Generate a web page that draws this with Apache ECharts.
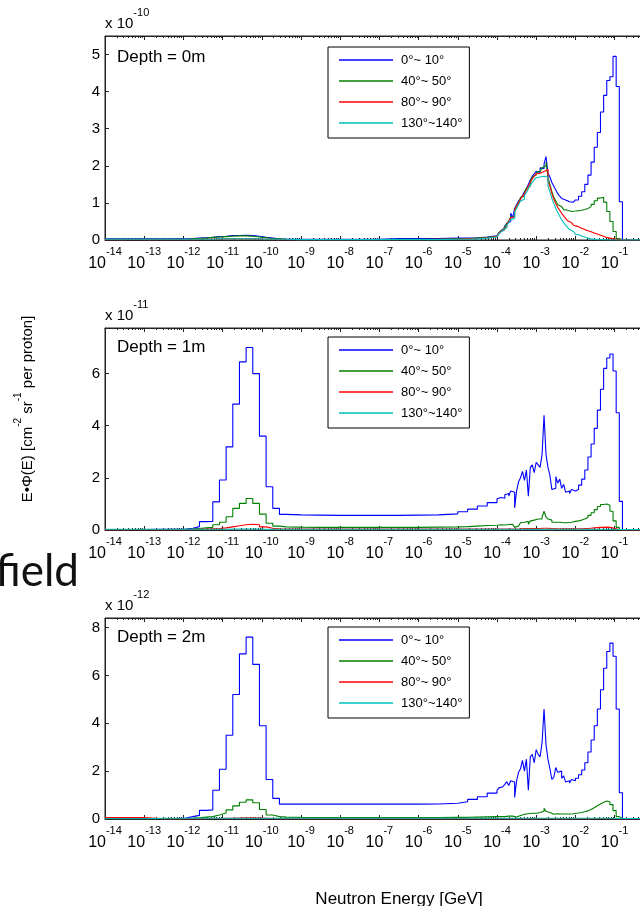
<!DOCTYPE html>
<html>
<head>
<meta charset="utf-8">
<title>Neutron energy spectra at depth</title>
<script src="https://cdn.jsdelivr.net/npm/echarts@6/dist/echarts.min.js"></script>
<style>
  html, body { margin: 0; padding: 0; background: #fff; }
  #chart { width: 640px; height: 906px; }
</style>
</head>
<body>
<div id="chart"></div>
<script>
// bin edges as log10(E / GeV); the last entry closes the last bin
var binEdges = [
  -14, -13.5, -13, -12.5,
  -12.1, -11.93, -11.76, -11.59, -11.42, -11.25, -11.08, -10.91, -10.74, -10.57, -10.4, -10.23, -10.06, -9.89, -9.72, -9.55,
  -9.38, -9, -8.5, -8, -7.5, -7, -6.5, -6, -5.5, -5, -4.75, -4.5, -4.25,
  -4, -3.95, -3.9, -3.85, -3.8, -3.75, -3.7, -3.65, -3.6, -3.55, -3.5, -3.45, -3.4, -3.35, -3.3, -3.25, -3.2, -3.15, -3.1, -3.05,
  -3, -2.95, -2.9, -2.85, -2.8, -2.75, -2.7, -2.65, -2.6, -2.55, -2.5, -2.45, -2.4, -2.35, -2.3, -2.25, -2.2, -2.15, -2.1, -2.05,
  -2, -1.92, -1.84, -1.76, -1.68, -1.6, -1.52, -1.44, -1.36, -1.28, -1.2, -1.12, -1.04, -0.96, -0.88,
  -0.8, 1
];

var angleNames = ['0°~ 10°', '40°~ 50°', '80°~ 90°', '130°~140°'];
var depthNames = ['Depth = 0m', 'Depth = 1m', 'Depth = 2m'];
var scaleExp = [-10, -11, -12];
var yMax = [5.5, 7.75, 8.4];
var yStep = [1, 2, 2];

// depth 0 m, x 1e-10
var d0Blue = [
  0.03, 0.03, 0.03, 0.03,
  0.03, 0.04, 0.05, 0.06, 0.07, 0.09, 0.1, 0.12, 0.12, 0.13, 0.12, 0.1, 0.07, 0.05, 0.03, 0.02,
  0.02, 0.02, 0.02, 0.02, 0.02, 0.04, 0.04, 0.04, 0.05, 0.05, 0.06, 0.08, 0.11,
  0.15, 0.2, 0.25, 0.3, 0.38, 0.45, 0.5, 0.72, 0.6, 0.85, 0.95, 1.05, 1.12, 1.2, 1.3, 1.38, 1.5, 1.62, 1.72, 1.78,
  1.85, 1.82, 1.95, 1.92, 2.05, 2.25, 1.8, 1.7, 1.55, 1.45, 1.35, 1.25, 1.18, 1.12, 1.08, 1.05, 1.03, 1.04, 1.02, 1.04,
  1.08, 1.18, 1.3, 1.5, 1.75, 2.1, 2.5, 2.9, 3.45, 3.9, 4.3, 4.4, 4.95, 4.14, 1.03,
  0
];
var d0Green = [
  0.02, 0.02, 0.02, 0.02,
  0.02, 0.03, 0.04, 0.05, 0.07, 0.08, 0.09, 0.1, 0.11, 0.11, 0.1, 0.08, 0.06, 0.04, 0.03, 0.02,
  0.01, 0.01, 0.01, 0.01, 0.01, 0.02, 0.02, 0.02, 0.03, 0.03, 0.05, 0.07, 0.1,
  0.14, 0.19, 0.26, 0.28, 0.36, 0.44, 0.52, 0.62, 0.62, 0.82, 0.92, 1.02, 1.15, 1.18, 1.28, 1.4, 1.45, 1.6, 1.7, 1.75,
  1.82, 1.85, 1.9, 1.95, 2.0, 2.1, 1.7, 1.5, 1.3, 1.15, 1.05, 0.95, 0.9, 0.85, 0.82, 0.8, 0.78, 0.77, 0.77, 0.78,
  0.79, 0.8, 0.82, 0.85, 0.9, 0.96, 1.06, 1.13, 1.15, 1.02, 0.77, 0.5, 0.23, 0.04, 0,
  0
];
var d0Red = [
  0.01, 0.01, 0.01, 0.01,
  0.01, 0.01, 0.01, 0.02, 0.02, 0.02, 0.03, 0.03, 0.03, 0.03, 0.03, 0.02, 0.02, 0.01, 0.01, 0.01,
  0.01, 0.01, 0.01, 0.01, 0.01, 0.01, 0.01, 0.02, 0.02, 0.03, 0.04, 0.06, 0.09,
  0.13, 0.18, 0.24, 0.3, 0.35, 0.42, 0.5, 0.6, 0.62, 0.8, 0.92, 1.0, 1.1, 1.18, 1.25, 1.35, 1.45, 1.55, 1.65, 1.72,
  1.78, 1.8, 1.85, 1.85, 1.88, 1.9, 1.6, 1.45, 1.25, 1.1, 0.98, 0.88, 0.8, 0.72, 0.65, 0.58, 0.52, 0.47, 0.43, 0.4,
  0.36, 0.32, 0.28, 0.25, 0.22, 0.19, 0.16, 0.13, 0.1, 0.07, 0.05, 0.03, 0.02, 0.01, 0,
  0
];
var d0Cyan = [
  0.02, 0.02, 0.02, 0.02,
  0.02, 0.02, 0.02, 0.02, 0.02, 0.03, 0.03, 0.03, 0.03, 0.03, 0.03, 0.03, 0.02, 0.02, 0.02, 0.02,
  0.01, 0.01, 0.01, 0.01, 0.01, 0.01, 0.01, 0.01, 0.02, 0.02, 0.03, 0.05, 0.08,
  0.12, 0.16, 0.22, 0.28, 0.33, 0.4, 0.46, 0.55, 0.58, 0.75, 0.85, 0.95, 1.05, 1.1, 1.2, 1.28, 1.38, 1.48, 1.56, 1.62,
  1.68, 1.7, 1.74, 1.72, 1.75, 1.7, 1.45, 1.3, 1.12, 0.98, 0.85, 0.74, 0.64, 0.55, 0.47, 0.4, 0.34, 0.28, 0.23, 0.19,
  0.15, 0.11, 0.08, 0.05, 0.03, 0.02, 0.01, 0.01, 0.01, 0, 0, 0, 0, 0, 0,
  0.01
];

// depth 1 m, x 1e-11
var d1Blue = [
  0.02, 0.02, 0.03, 0.03,
  0.04, 0.07, 0.13, 0.32, 0.33, 1.08, 1.92, 3.19, 4.83, 6.45, 7.0, 6.0, 3.6, 1.66, 0.83, 0.6,
  0.58, 0.57, 0.56, 0.56, 0.56, 0.56, 0.57, 0.58, 0.62, 0.7, 0.8, 0.92, 1.05,
  1.2, 1.25, 1.3, 1.22, 1.35, 1.4, 1.3, 1.5, 1.45, 0.85, 1.5, 1.85, 2.0, 2.25, 1.9, 2.3, 1.3, 2.4, 2.5, 2.2,
  2.6, 2.5, 2.4, 2.9, 4.4, 2.9, 2.4, 2.1, 1.55, 1.6, 2.05, 1.8, 1.95, 1.6, 1.75, 1.45, 1.5, 1.4, 1.55, 1.5,
  1.55, 1.72, 1.95, 2.3, 2.8, 3.3, 3.9, 4.6, 5.4, 6.2, 6.6, 6.75, 6.1, 4.5, 1.1,
  0
];
var d1Green = [
  0.02, 0.02, 0.02, 0.02,
  0.03, 0.04, 0.06, 0.08, 0.1, 0.2, 0.3, 0.51, 0.83, 1.02, 1.21, 1.02, 0.61, 0.26, 0.15, 0.12,
  0.11, 0.1, 0.1, 0.1, 0.1, 0.1, 0.1, 0.11, 0.12, 0.13, 0.15, 0.17, 0.18,
  0.19, 0.2, 0.2, 0.19, 0.2, 0.21, 0.2, 0.22, 0.2, 0.1, 0.15, 0.22, 0.28, 0.3, 0.27, 0.33, 0.22, 0.35, 0.38, 0.36,
  0.42, 0.4, 0.42, 0.5, 0.72, 0.5, 0.42, 0.38, 0.3, 0.3, 0.33, 0.3, 0.3, 0.28, 0.3, 0.28, 0.3, 0.3, 0.32, 0.33,
  0.35, 0.38, 0.42, 0.48, 0.56, 0.66, 0.78, 0.9, 0.98, 1.0, 0.95, 0.72, 0.35, 0.1, 0,
  0
];
var d1Red = [
  0.01, 0.01, 0.01, 0.01,
  0.01, 0.02, 0.03, 0.04, 0.05, 0.06, 0.08, 0.12, 0.16, 0.2, 0.22, 0.2, 0.12, 0.07, 0.05, 0.04,
  0.04, 0.04, 0.04, 0.04, 0.04, 0.04, 0.04, 0.04, 0.04, 0.04, 0.04, 0.04, 0.04,
  0.04, 0.04, 0.04, 0.04, 0.04, 0.04, 0.04, 0.04, 0.04, 0.03, 0.04, 0.05, 0.05, 0.06, 0.05, 0.06, 0.04, 0.06, 0.06, 0.06,
  0.07, 0.06, 0.06, 0.07, 0.1, 0.07, 0.06, 0.06, 0.05, 0.05, 0.05, 0.05, 0.05, 0.05, 0.05, 0.05, 0.05, 0.05, 0.05, 0.05,
  0.05, 0.05, 0.06, 0.06, 0.07, 0.08, 0.09, 0.1, 0.1, 0.11, 0.1, 0.08, 0.05, 0.02, 0,
  0
];
var d1Cyan = [
  0.03, 0.03, 0.03, 0.03,
  0.03, 0.03, 0.03, 0.03, 0.03, 0.03, 0.03, 0.04, 0.04, 0.04, 0.04, 0.04, 0.03, 0.03, 0.03, 0.03,
  0.03, 0.03, 0.03, 0.03, 0.03, 0.03, 0.03, 0.03, 0.03, 0.03, 0.03, 0.03, 0.03,
  0.03, 0.03, 0.03, 0.03, 0.03, 0.03, 0.03, 0.03, 0.03, 0.03, 0.03, 0.03, 0.03, 0.03, 0.03, 0.03, 0.03, 0.03, 0.03, 0.03,
  0.03, 0.03, 0.03, 0.03, 0.03, 0.03, 0.03, 0.03, 0.03, 0.03, 0.03, 0.03, 0.03, 0.03, 0.03, 0.03, 0.03, 0.03, 0.03, 0.03,
  0.03, 0.03, 0.03, 0.03, 0.03, 0.03, 0.03, 0.03, 0.03, 0.03, 0.03, 0.03, 0.02, 0.02, 0.02,
  0.02
];

// depth 2 m, x 1e-12
var d2Blue = [
  0.02, 0.02, 0.02, 0.03,
  0.04, 0.1, 0.15, 0.36, 0.38, 1.2, 2.08, 3.5, 5.2, 6.9, 7.6, 6.46, 3.9, 1.65, 0.86, 0.62,
  0.62, 0.62, 0.62, 0.62, 0.62, 0.62, 0.62, 0.63, 0.66, 0.72, 0.82, 0.93, 1.08,
  1.2, 1.3, 1.35, 1.28, 1.45, 1.56, 1.4, 1.6, 1.55, 0.9, 1.6, 1.95, 2.1, 2.45, 2.0, 2.5, 1.2, 2.6, 2.7, 2.35,
  2.9, 2.7, 2.6, 3.2, 4.6, 3.1, 2.5, 2.1, 1.65, 1.75, 2.15, 1.95, 2.0, 1.7, 1.8, 1.55, 1.6, 1.5, 1.65, 1.6,
  1.7, 1.85, 2.05, 2.35, 2.8, 3.3, 3.9, 4.6, 5.4, 6.3, 7.0, 7.35, 6.8, 4.6, 1.1,
  0
];
var d2Green = [
  0.01, 0.01, 0.01, 0.01,
  0.02, 0.03, 0.05, 0.08, 0.1, 0.17, 0.25, 0.38, 0.55, 0.7, 0.8, 0.68, 0.4, 0.17, 0.1, 0.08,
  0.07, 0.06, 0.06, 0.06, 0.06, 0.06, 0.06, 0.06, 0.07, 0.07, 0.08, 0.09, 0.1,
  0.1, 0.1, 0.11, 0.1, 0.11, 0.12, 0.11, 0.12, 0.12, 0.08, 0.12, 0.15, 0.18, 0.2, 0.18, 0.22, 0.15, 0.24, 0.26, 0.24,
  0.28, 0.27, 0.27, 0.32, 0.45, 0.32, 0.27, 0.24, 0.2, 0.2, 0.22, 0.21, 0.21, 0.2, 0.21, 0.2, 0.21, 0.21, 0.22, 0.23,
  0.25, 0.27, 0.3, 0.34, 0.4, 0.47, 0.55, 0.63, 0.7, 0.75, 0.72, 0.6, 0.35, 0.1, 0.02,
  0
];
var d2Red = [
  0.06, 0.06, 0.01, 0.01,
  0.01, 0.01, 0.01, 0.02, 0.02, 0.02, 0.03, 0.03, 0.04, 0.05, 0.05, 0.04, 0.03, 0.02, 0.01, 0.01,
  0.01, 0.01, 0.01, 0.01, 0.01, 0.01, 0.01, 0.01, 0.01, 0.01, 0.01, 0.01, 0.01,
  0.01, 0.01, 0.01, 0.01, 0.01, 0.01, 0.01, 0.01, 0.01, 0.01, 0.01, 0.01, 0.01, 0.01, 0.01, 0.01, 0.01, 0.01, 0.01, 0.01,
  0.01, 0.01, 0.01, 0.02, 0.02, 0.02, 0.01, 0.01, 0.01, 0.01, 0.01, 0.01, 0.01, 0.01, 0.01, 0.01, 0.01, 0.01, 0.01, 0.01,
  0.01, 0.01, 0.01, 0.01, 0.01, 0.01, 0.02, 0.02, 0.02, 0.02, 0.02, 0.02, 0.01, 0.01, 0,
  0
];
var d2Cyan = [
  0.01, 0.01, 0.03, 0.03,
  0.03, 0.03, 0.03, 0.03, 0.03, 0.03, 0.03, 0.03, 0.03, 0.03, 0.03, 0.03, 0.03, 0.03, 0.03, 0.03,
  0.03, 0.03, 0.03, 0.03, 0.03, 0.03, 0.03, 0.03, 0.03, 0.03, 0.03, 0.03, 0.03,
  0.03, 0.03, 0.03, 0.03, 0.03, 0.03, 0.03, 0.03, 0.03, 0.03, 0.03, 0.03, 0.03, 0.03, 0.03, 0.03, 0.03, 0.03, 0.03, 0.03,
  0.03, 0.03, 0.03, 0.03, 0.03, 0.03, 0.03, 0.03, 0.03, 0.03, 0.03, 0.03, 0.03, 0.03, 0.03, 0.03, 0.03, 0.03, 0.03, 0.03,
  0.03, 0.03, 0.03, 0.03, 0.03, 0.03, 0.03, 0.03, 0.03, 0.03, 0.03, 0.03, 0.02, 0.02, 0.02,
  0.02
];

var depthSeries = [
  [d0Blue, d0Green, d0Red, d0Cyan],
  [d1Blue, d1Green, d1Red, d1Cyan],
  [d2Blue, d2Green, d2Red, d2Cyan]
];

var lineColors = ['#0000ff', '#008000', '#ff0000', '#00bfbf'];
var FONT = 'Liberation Sans, Arial, sans-serif';
var AXIS = '#222';

var gridTops = [36, 328, 618];
var gridHeights = [204, 202, 201];
var depthTops = [47, 337, 627];
var legendTops = [47, 337, 627];

function toPoints(vals) {
  var pts = [];
  for (var i = 0; i < binEdges.length; i++) {
    var v = i < vals.length ? vals[i] : vals[vals.length - 1];
    pts.push([Math.pow(10, binEdges[i]), v]);
  }
  return pts;
}

var myChart = echarts.init(document.getElementById('chart'), null, { renderer: 'canvas' });

var grids = [], xAxes = [], yAxes = [], series = [], legends = [], titles = [];

for (var p = 0; p < 3; p++) {
  grids.push({
    left: 105, right: -53, top: gridTops[p], height: gridHeights[p],
    show: true, borderColor: AXIS, borderWidth: 1, backgroundColor: 'transparent',
    outerBoundsMode: 'none', containLabel: false
  });

  // bottom axis with labels
  xAxes.push({
    type: 'log', logBase: 10, gridIndex: p, position: 'bottom',
    min: 1e-14, max: 10, interval: 1,
    axisLine: { show: true, onZero: false, lineStyle: { color: AXIS, width: 1 } },
    axisTick: { show: true, inside: true, length: 4, lineStyle: { color: AXIS } },
    minorTick: { show: true, splitNumber: 9, length: 2, lineStyle: { color: AXIS } },
    splitLine: { show: false },
    minorSplitLine: { show: false },
    axisLabel: {
      interval: 0, margin: 6, color: '#000',
      formatter: function (v) {
        var e = Math.round(Math.log(v) / Math.LN10);
        return '{b|10}{s|' + e + '}';
      },
      rich: {
        b: { fontSize: 16, fontFamily: FONT, color: '#000', lineHeight: 26, verticalAlign: 'bottom' },
        s: { fontSize: 11, fontFamily: FONT, color: '#000', lineHeight: 12, verticalAlign: 'top' }
      }
    }
  });
  // top axis: box edge with ticks only
  xAxes.push({
    type: 'log', logBase: 10, gridIndex: p, position: 'top',
    min: 1e-14, max: 10, interval: 1,
    axisLine: { show: true, onZero: false, lineStyle: { color: AXIS, width: 1 } },
    axisTick: { show: true, inside: true, length: 4, lineStyle: { color: AXIS } },
    minorTick: { show: true, splitNumber: 9, length: 2, lineStyle: { color: AXIS } },
    splitLine: { show: false },
    axisLabel: { show: false }
  });

  yAxes.push({
    type: 'value', gridIndex: p, min: 0, max: yMax[p], interval: yStep[p],
    axisLine: { show: true, onZero: false, lineStyle: { color: AXIS, width: 1 } },
    axisTick: { show: true, inside: true, length: 4, lineStyle: { color: AXIS } },
    splitLine: { show: false },
    axisLabel: { showMaxLabel: false, color: '#000', fontSize: 15, fontFamily: FONT, margin: 5 },
    name: '{b|x 10}{s|' + scaleExp[p] + '}',
    nameLocation: 'end', nameGap: 5,
    nameTextStyle: {
      align: 'left',
      rich: {
        b: { fontSize: 15, fontFamily: FONT, color: '#000', lineHeight: 24, verticalAlign: 'bottom' },
        s: { fontSize: 11, fontFamily: FONT, color: '#000', lineHeight: 12, verticalAlign: 'top' }
      }
    }
  });

  for (var s = 0; s < 4; s++) {
    series.push({
      type: 'line', name: angleNames[s],
      xAxisIndex: 2 * p, yAxisIndex: p,
      data: toPoints(depthSeries[p][s]),
      step: 'end', symbol: 'none', showSymbol: false,
      color: lineColors[s],
      lineStyle: { width: 1.1, color: lineColors[s] },
      emphasis: { disabled: true },
      animation: false
    });
  }

  legends.push({
    left: 328, top: legendTops[p], orient: 'vertical',
    data: angleNames,
    icon: 'rect',
    itemWidth: 54, itemHeight: 1.5, itemGap: 7,
    padding: [6, 7, 8, 11],
    borderColor: '#000', borderWidth: 1, borderRadius: 0,
    backgroundColor: '#fff',
    selectedMode: false,
    textStyle: { fontSize: 13, fontFamily: FONT, color: '#000', lineHeight: 14, padding: [0, 0, 0, 3] }
  });

  titles.push({
    text: depthNames[p], left: 117, top: depthTops[p], padding: 0,
    textStyle: { fontSize: 17, fontWeight: 'normal', fontFamily: FONT, color: '#000', lineHeight: 20 }
  });
}

var option = {
  backgroundColor: '#fff',
  animation: false,
  title: titles,
  legend: legends,
  grid: grids,
  xAxis: xAxes,
  yAxis: yAxes,
  series: series,
  graphic: [
    {
      type: 'text', x: 24, y: 409, rotation: Math.PI / 2,
      style: {
        text: '{n|E•Φ(E) [cm}{s|-2}{n| sr}{s|-1}{n| per proton]}',
        align: 'center', verticalAlign: 'middle', fill: '#000',
        rich: {
          n: { fontSize: 15, fontFamily: FONT, fill: '#000', lineHeight: 22, verticalAlign: 'bottom' },
          s: { fontSize: 10, fontFamily: FONT, fill: '#000', lineHeight: 12, verticalAlign: 'top' }
        }
      }
    },
    {
      type: 'text', x: 79, y: 572,
      style: { text: 'field', fontSize: 44, fontFamily: 'Lato, Noto Sans, sans-serif', fill: '#111', align: 'right', verticalAlign: 'middle' }
    },
    {
      type: 'text', x: 399, y: 899,
      style: { text: 'Neutron Energy [GeV]', fontSize: 17, fontFamily: FONT, fill: '#000', align: 'center', verticalAlign: 'middle' }
    }
  ]
};

myChart.setOption(option);
</script>
</body>
</html>
